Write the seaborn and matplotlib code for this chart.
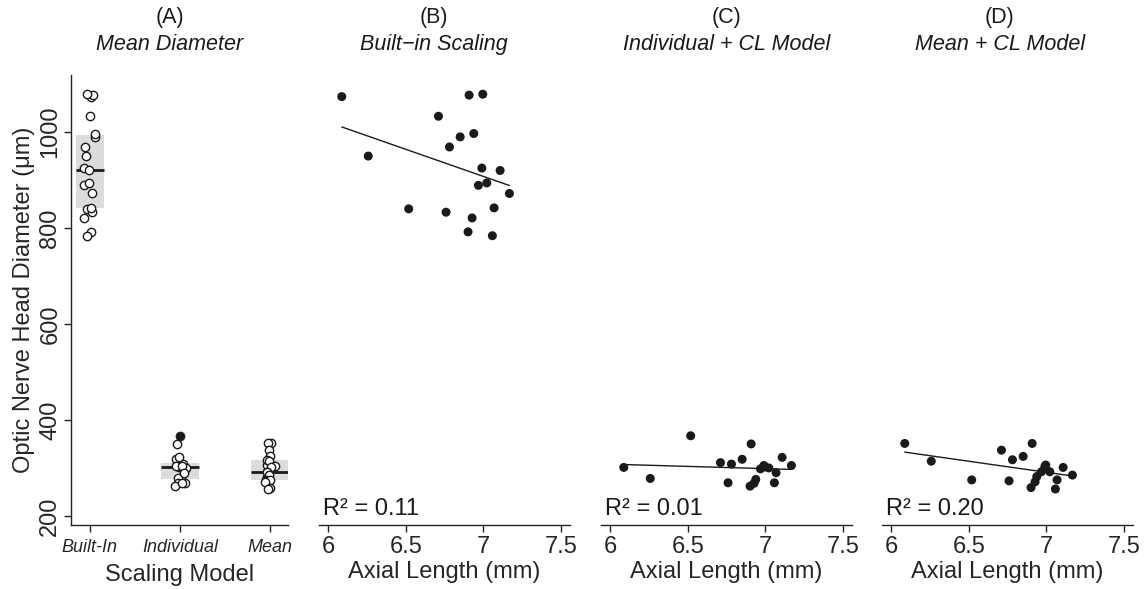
import numpy as np
import pandas as pd
import matplotlib
matplotlib.use("Agg")
import matplotlib.pyplot as plt
import seaborn as sns

# ---------------- data ----------------
axial_length = [6.087, 6.909, 6.997, 6.711, 6.851, 6.939, 6.782, 6.258, 6.991, 7.109,
                6.969, 7.023, 7.169, 6.519, 6.760, 7.070, 6.928, 6.902, 7.059]
builtin_onh = [1074, 1077, 1079, 1033, 990, 997, 969, 950, 925, 920,
               889, 894, 872, 840, 833, 842, 821, 792, 784]
individual_onh = [301, 350, 302, 311, 318, 276, 308, 278, 305, 322,
                  298, 300, 305, 367, 269, 290, 268, 262, 269]
mean_onh = [351, 351, 306, 337, 324, 282, 317, 314, 303, 301,
            292, 292, 285, 275, 273, 275, 271, 259, 256]

models = ["Built-In", "Individual", "Mean"]
panel_letters = ["(A)", "(B)", "(C)", "(D)"]
panel_titles = ["Mean Diameter", "Built\u2212in Scaling", "Individual + CL Model", "Mean + CL Model"]
r2_labels = ["0.11", "0.01", "0.20"]
y_ticks = [200, 400, 600, 800, 1000]
x_ticks = [6, 6.5, 7, 7.5]
x_tick_labels = ["6", "6.5", "7", "7.5"]

# ---------------- style ----------------
sns.set_theme(style="white")
plt.rcParams["font.family"] = ["Liberation Sans", "DejaVu Sans"]
plt.rcParams["axes.edgecolor"] = "#222222"
plt.rcParams["axes.linewidth"] = 1.0

W, H = 1146, 589
fig = plt.figure(figsize=(W / 100, H / 100), dpi=100)

def add_axes(x0, x1, y0=75, y1=525):
    return fig.add_axes([x0 / W, 1 - y1 / H, (x1 - x0) / W, (y1 - y0) / H])

axA = add_axes(71, 288)
axB = add_axes(319, 570)
axC = add_axes(601, 852)
axD = add_axes(882, 1133)

YLIM = (181, 1119)
TICKFS = 17
DARK = "#1a1a1a"

# ---------------- panel A ----------------
long = pd.DataFrame({
    "model": np.repeat(models, len(axial_length)),
    "onh": builtin_onh + individual_onh + mean_onh,
})
stats = long.groupby("model")["onh"].quantile([0.25, 0.5, 0.75]).unstack()
long["outlier"] = [
    (v > stats.loc[m, 0.75] + 1.5 * (stats.loc[m, 0.75] - stats.loc[m, 0.25])) or
    (v < stats.loc[m, 0.25] - 1.5 * (stats.loc[m, 0.75] - stats.loc[m, 0.25]))
    for m, v in zip(long["model"], long["onh"])
]

box_widths = [0.31, 0.43, 0.43]
for i, m in enumerate(models):
    q1, med, q3 = stats.loc[m, 0.25], stats.loc[m, 0.5], stats.loc[m, 0.75]
    axA.bar(i, q3 - q1, bottom=q1, width=box_widths[i], color="#dcdcdc",
            edgecolor="none", zorder=0)
    axA.hlines(med, i - box_widths[i] / 2, i + box_widths[i] / 2, color=DARK,
               lw=2, zorder=1)

np.random.seed(3)
sns.stripplot(data=long[~long["outlier"]], x="model", y="onh", order=models,
              jitter=0.07, size=6, color="white", edgecolor=DARK, linewidth=1.0,
              ax=axA, zorder=3)
sns.stripplot(data=long[long["outlier"]], x="model", y="onh", order=models,
              jitter=0.07, size=6.5, color=DARK, edgecolor=DARK, linewidth=0.5,
              ax=axA, zorder=3)

axA.set_xlim(-0.21, 2.2)
axA.set_ylim(*YLIM)
axA.set_yticks(y_ticks)
axA.set_yticklabels([str(t) for t in y_ticks], rotation=90, va="center",
                    fontsize=TICKFS)
axA.set_xticks(range(len(models)))
axA.set_xticklabels(models, fontsize=13, style="italic")
axA.set_xlabel("Scaling Model", fontsize=17, labelpad=6)
axA.set_ylabel("Optic Nerve Head Diameter (\u03bcm)", fontsize=17, labelpad=3)
axA.tick_params(axis="both", direction="out", length=5, width=1, color="#222222",
                bottom=True, left=True, pad=2)
axA.tick_params(axis="x", pad=5)
sns.despine(ax=axA)

# ---------------- panels B-D ----------------
for ax, yv, r2 in zip([axB, axC, axD], [builtin_onh, individual_onh, mean_onh], r2_labels):
    sns.regplot(x=axial_length, y=yv, ax=ax, ci=None,
                scatter_kws=dict(s=42, color=DARK, edgecolor="none", alpha=1),
                line_kws=dict(color=DARK, lw=1.0))
    ax.set_xlim(5.94, 7.56)
    ax.set_ylim(*YLIM)
    ax.set_xticks(x_ticks)
    ax.set_xticklabels(x_tick_labels, fontsize=TICKFS)
    ax.set_yticks([])
    ax.set_xlabel("Axial Length (mm)", fontsize=17, labelpad=2)
    ax.tick_params(axis="x", direction="out", length=5, width=1, color="#222222",
                   bottom=True, pad=3)
    sns.despine(ax=ax, left=True)
    ax.text(0.015, 0.022, "R\u00b2 = " + r2, transform=ax.transAxes,
            fontsize=17, ha="left", va="baseline", color=DARK)

# ---------------- titles ----------------
title_x = [0.456, 0.458, 0.5, 0.47]
for ax, letter, title, tx in zip([axA, axB, axC, axD], panel_letters, panel_titles, title_x):
    ax.text(tx, 1.127, letter, transform=ax.transAxes, ha="center", va="center",
            fontsize=15.5, color=DARK)
    ax.text(tx, 1.067, title, transform=ax.transAxes, ha="center", va="center",
            fontsize=15.5, style="italic", color=DARK)

fig.savefig("out.png", dpi=100, facecolor="white")
